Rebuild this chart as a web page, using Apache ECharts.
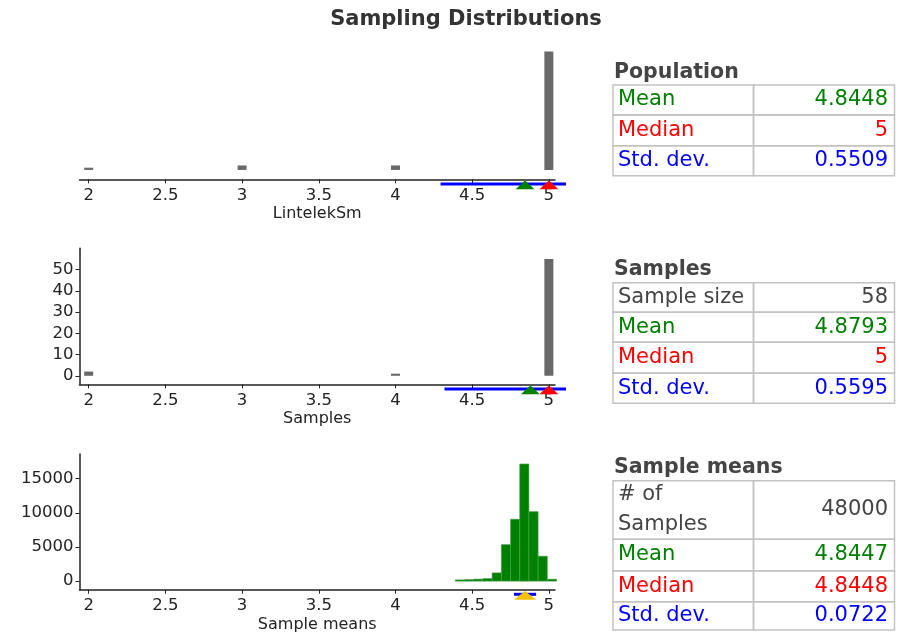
<!DOCTYPE html>
<html>
<head>
<meta charset="utf-8">
<title>Sampling Distributions</title>
<script src="https://cdn.jsdelivr.net/npm/echarts@6.0.0/dist/echarts.min.js"></script>
<style>
  html, body { margin: 0; padding: 0; background: #fff; }
  #chart { width: 903px; height: 634px; }
</style>
</head>
<body>
<div id="chart"></div>
<script>
const xTicks = [2, 2.5, 3, 3.5, 4, 4.5, 5]
const sampleYTicks = [0, 10, 20, 30, 40, 50]
const meanYTicks = [0, 5000, 10000, 15000]

const popValues = [2, 3, 4, 5]
const popCounts = [1, 2, 2, 53]
const sampleValues = [2, 3, 4, 5]
const sampleCounts = [2, 0, 1, 55]
const meanBinEdges = [4.39, 4.45, 4.51, 4.57, 4.63, 4.69, 4.75, 4.81, 4.87, 4.93, 4.99, 5.05]
const meanCounts = [190, 240, 300, 380, 1210, 5350, 9060, 17140, 10170, 3650, 290]

// mean, median, std. dev.
const popStats = [4.8448, 5, 0.5509]
const sampleStats = [4.8793, 5, 0.5595]
const meanStats = [4.8447, 4.8448, 0.0722]
const sampleSize = 58
const numSamples = 48000

const GREEN = '#008000'
const RED = '#ff0000'
const BLUE = '#0000ff'
const GOLD = '#f2c200'
const FONT = '"DejaVu Sans", Verdana, sans-serif'

const chart = echarts.init(document.getElementById('chart'))

const gridLeft = 79.5
const gridWidth = 475.5

function xAxisFor(i, name) {
  return {
    type: 'value',
    gridIndex: i,
    min: 1.94,
    max: 5.04,
    name: name,
    nameLocation: 'middle',
    nameGap: 27,
    nameTextStyle: { color: '#222', fontSize: 16, fontFamily: FONT },
    axisLine: { show: true, onZero: false, lineStyle: { color: '#222', width: 1.5 } },
    axisTick: { show: true, length: 4, customValues: xTicks, lineStyle: { color: '#222' } },
    axisLabel: {
      customValues: xTicks, color: '#222', fontSize: 16.5, fontFamily: FONT, margin: 8,
      formatter: (v) => String(v)
    },
    splitLine: { show: false }
  }
}

function yAxisFor(i, min, max, ticks) {
  return {
    type: 'value',
    gridIndex: i,
    min: min,
    max: max,
    show: !!ticks,
    axisLine: { show: true, lineStyle: { color: '#222', width: 1.5 } },
    axisTick: { show: true, length: 4, customValues: ticks || [], lineStyle: { color: '#222' } },
    axisLabel: {
      customValues: ticks || [], color: '#222', fontSize: 16.5, fontFamily: FONT, margin: 6,
      formatter: (v) => String(v)
    },
    splitLine: { show: false }
  }
}

function markerSeries(i, stats, single) {
  return {
    type: 'custom',
    xAxisIndex: i,
    yAxisIndex: i,
    z: 5,
    clip: false,
    silent: true,
    data: [[stats[0], 0, stats[1], stats[2]]],
    encode: { x: 0, y: 1 },
    renderItem(params, api) {
      const cs = params.coordSys
      const axisY = cs.y + cs.height
      const mean = api.value(0)
      const median = api.value(2)
      const sd = api.value(3)
      const xa = api.coord([mean - sd, 0])[0]
      const xb = Math.min(api.coord([mean + sd, 0])[0], cs.x + cs.width + 11)
      const tri = (v, color, w) => {
        const cx = api.coord([v, 0])[0]
        return {
          type: 'polygon',
          shape: { points: [[cx, axisY + 1.3], [cx - w / 2, axisY + 10], [cx + w / 2, axisY + 10]] },
          style: { fill: color }
        }
      }
      const children = [{
        type: 'line',
        shape: { x1: xa, y1: axisY + 4.6, x2: xb, y2: axisY + 4.6 },
        style: { stroke: BLUE, lineWidth: 3 }
      }]
      if (single) children.push(tri(mean, GOLD, 22))
      else children.push(tri(mean, GREEN, 19), tri(median, RED, 19))
      return { type: 'group', children: children }
    }
  }
}

function table(title, titleY, top, rowHeights, rows) {
  const els = [{
    type: 'text',
    x: 614,
    y: titleY,
    style: { text: title, fill: '#444', font: 'bold 20.5px ' + FONT, verticalAlign: 'middle', textVerticalAlign: 'middle' }
  }]
  let y = top
  rows.forEach((row, i) => {
    const h = rowHeights[i]
    els.push({ type: 'rect', shape: { x: 613, y: y, width: 140.5, height: h }, style: { fill: 'none', stroke: '#c2c2c2', lineWidth: 1.5 } })
    els.push({ type: 'rect', shape: { x: 753.5, y: y, width: 141, height: h }, style: { fill: 'none', stroke: '#c2c2c2', lineWidth: 1.5 } })
    els.push({
      type: 'text', x: 618, y: y + h / 2,
      style: { text: row[0], fill: row[2], font: '21px ' + FONT, lineHeight: 30, align: 'left', textAlign: 'left', verticalAlign: 'middle', textVerticalAlign: 'middle' }
    })
    els.push({
      type: 'text', x: 888, y: y + h / 2,
      style: { text: String(row[1]), fill: row[2], font: '21px ' + FONT, align: 'right', textAlign: 'right', verticalAlign: 'middle', textVerticalAlign: 'middle' }
    })
    y += h
  })
  return els
}

const option = {
  backgroundColor: '#fff',
  animation: false,
  title: {
    text: 'Sampling Distributions',
    left: 461,
    top: 4,
    textAlign: 'center',
    textStyle: { fontSize: 21, fontWeight: 'bold', color: '#333', fontFamily: FONT }
  },
  grid: [
    { left: gridLeft, width: gridWidth, top: 40, height: 139.3, outerBoundsMode: 'none' },
    { left: gridLeft, width: gridWidth, top: 248.3, height: 136, outerBoundsMode: 'none' },
    { left: gridLeft, width: gridWidth, top: 454, height: 135.7, outerBoundsMode: 'none' }
  ],
  xAxis: [
    xAxisFor(0, 'LintelekSm'),
    xAxisFor(1, 'Samples'),
    xAxisFor(2, 'Sample means')
  ],
  yAxis: [
    yAxisFor(0, -4.2, 58.2, null),
    yAxisFor(1, -4, 60, sampleYTicks),
    yAxisFor(2, -1250, 18600, meanYTicks)
  ],
  series: [
    {
      type: 'bar',
      xAxisIndex: 0,
      yAxisIndex: 0,
      barWidth: 9,
      itemStyle: { color: '#696969' },
      data: popValues.map((v, i) => [v, popCounts[i]])
    },
    {
      type: 'bar',
      xAxisIndex: 1,
      yAxisIndex: 1,
      barWidth: 9,
      itemStyle: { color: '#696969' },
      data: sampleValues.map((v, i) => [v, sampleCounts[i]])
    },
    {
      type: 'custom',
      xAxisIndex: 2,
      yAxisIndex: 2,
      data: meanCounts.map((c, i) => [meanBinEdges[i], meanBinEdges[i + 1], c]),
      encode: { x: [0, 1], y: 2 },
      renderItem(params, api) {
        const p0 = api.coord([api.value(0), 0])
        const p1 = api.coord([api.value(1), api.value(2)])
        return {
          type: 'rect',
          shape: { x: p0[0], y: p1[1], width: p1[0] - p0[0], height: p0[1] - p1[1] },
          style: { fill: GREEN, stroke: '#4f9f4f', lineWidth: 0.6 }
        }
      }
    },
    markerSeries(0, popStats, false),
    markerSeries(1, sampleStats, false),
    markerSeries(2, meanStats, true)
  ],
  graphic: [].concat(
    table('Population', 73, 85, [30, 30.7, 30], [
      ['Mean', popStats[0], GREEN],
      ['Median', popStats[1], RED],
      ['Std. dev.', popStats[2], BLUE]
    ]),
    table('Samples', 270, 282.7, [29.6, 30, 31, 30], [
      ['Sample size', sampleSize, '#444'],
      ['Mean', sampleStats[0], GREEN],
      ['Median', sampleStats[1], RED],
      ['Std. dev.', sampleStats[2], BLUE]
    ]),
    table('Sample means', 468, 480.7, [58.6, 31.4, 31, 28.3], [
      ['# of\nSamples', numSamples, '#444'],
      ['Mean', meanStats[0], GREEN],
      ['Median', meanStats[1], RED],
      ['Std. dev.', meanStats[2], BLUE]
    ])
  )
}

chart.setOption(option)

window.addEventListener('resize', () => {
  chart.resize()
})
</script>
</body>
</html>
